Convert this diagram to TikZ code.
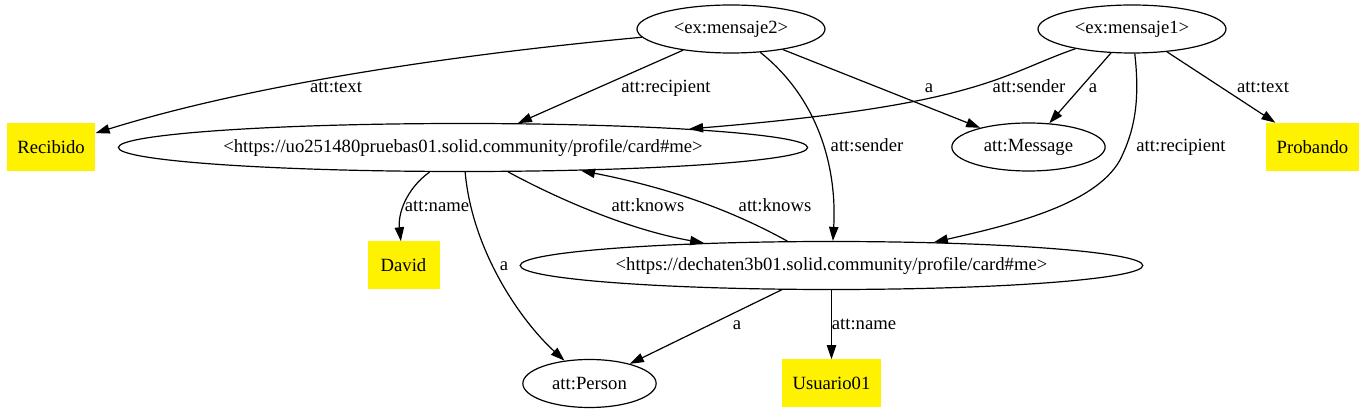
\documentclass[tikz,border=0pt]{standalone}
\usepackage{fontspec}
\setmainfont{Liberation Serif}
\usetikzlibrary{shapes.geometric, arrows.meta}
\tikzstyle{res}=[ellipse, draw, line width=0.9pt, inner sep=0pt, minimum height=36pt]
\tikzstyle{lit}=[rectangle, fill=yellow, inner sep=0pt, inner xsep=8pt, minimum width=54pt, minimum height=36pt]
\tikzstyle{lbl}=[inner sep=0pt, text height=9.5pt, text depth=3pt]
\tikzstyle{edge}=[line width=0.9pt, -{Triangle[length=10.5pt, width=7pt]}]

\begin{document}
\begin{tikzpicture}[x=0.75pt, y=-0.75pt, font=\fontsize{14}{16}\selectfont]
    \useasboundingbox (0,0) rectangle (1365,413);
    \coordinate (vm2) at (731,29);
    \coordinate (vm1) at (1132,29);
    \coordinate (vrec) at (51,147);
    \coordinate (vuo) at (463,147.5);
    \coordinate (vmsg) at (1028.5,147);
    \coordinate (vprob) at (1312.5,147);
    \coordinate (vdav) at (403.5,265.5);
    \coordinate (vdech) at (831.5,265.5);
    \coordinate (vper) at (589.5,383.5);
    \coordinate (vusu) at (831.5,383.5);
    \node[res, minimum width=141pt] (m2) at (vm2) {<ex:mensaje2>};
    \node[res, minimum width=141pt] (m1) at (vm1) {<ex:mensaje1>};
    \node[lit] (rec) at (vrec) {Recibido};
    \node[res, minimum width=517pt] (uo) at (vuo) {<https://uo251480pruebas01.solid.community/profile/card\#me>};
    \node[res, minimum width=115pt] (msg) at (vmsg) {att:Message};
    \node[lit] (prob) at (vprob) {Probando};
    \node[lit] (dav) at (vdav) {David};
    \node[res, minimum width=467pt] (dech) at (vdech) {<https://dechaten3b01.solid.community/profile/card\#me>};
    \node[res, minimum width=100pt] (per) at (vper) {att:Person};
    \node[lit] (usu) at (vusu) {Usuario01};
    \draw[edge] (m2) .. controls (450,55) and (250,85) .. (rec);
    \draw[edge] (m2) -- (uo);
    \draw[edge] (m2) -- (msg);
    \draw[edge] (m2) .. controls (820,100) and (837,170) .. (dech);
    \draw[edge] (m1) .. controls (1000,75) and (980,105) .. (uo);
    \draw[edge] (m1) -- (msg);
    \draw[edge] (m1) .. controls (1140,100) and (1135,130) .. (1120,160) .. controls (1095,205) and (1010,225) .. (dech);
    \draw[edge] (m1) -- (prob);
    \draw[edge] (uo) .. controls (405,190) and (398,215) .. (dav);
    \draw[edge] (uo) .. controls (472,250) and (520,320) .. (per);
    \draw[edge] (uo) .. controls (560,200) and (630,230) .. (dech);
    \draw[edge] (dech) .. controls (740,215) and (680,190) .. (uo);
    \draw[edge] (dech) -- (per);
    \draw[edge] (dech) -- (usu);
    \node[lbl] (lt2) at (336,88) {att:text};
    \node[lbl] (lr2) at (666,88) {att:recipient};
    \node[lbl] (la2) at (929,88) {a};
    \node[lbl] (ls1) at (1029,88) {att:sender};
    \node[lbl] (la1) at (1093,88) {a};
    \node[lbl] (lt1) at (1263,88) {att:text};
    \node[lbl] (ls2) at (867,147) {att:sender};
    \node[lbl] (lr1) at (1181,147) {att:recipient};
    \node[lbl] (ln1) at (437,207) {att:name};
    \node[lbl] (lk1) at (648,207) {att:knows};
    \node[lbl] (lk2) at (775,207) {att:knows};
    \node[lbl] (lp1) at (504,266) {a};
    \node[lbl] (lp2) at (737,325) {a};
    \node[lbl] (ln2) at (864,325) {att:name};
\end{tikzpicture}
\end{document}
